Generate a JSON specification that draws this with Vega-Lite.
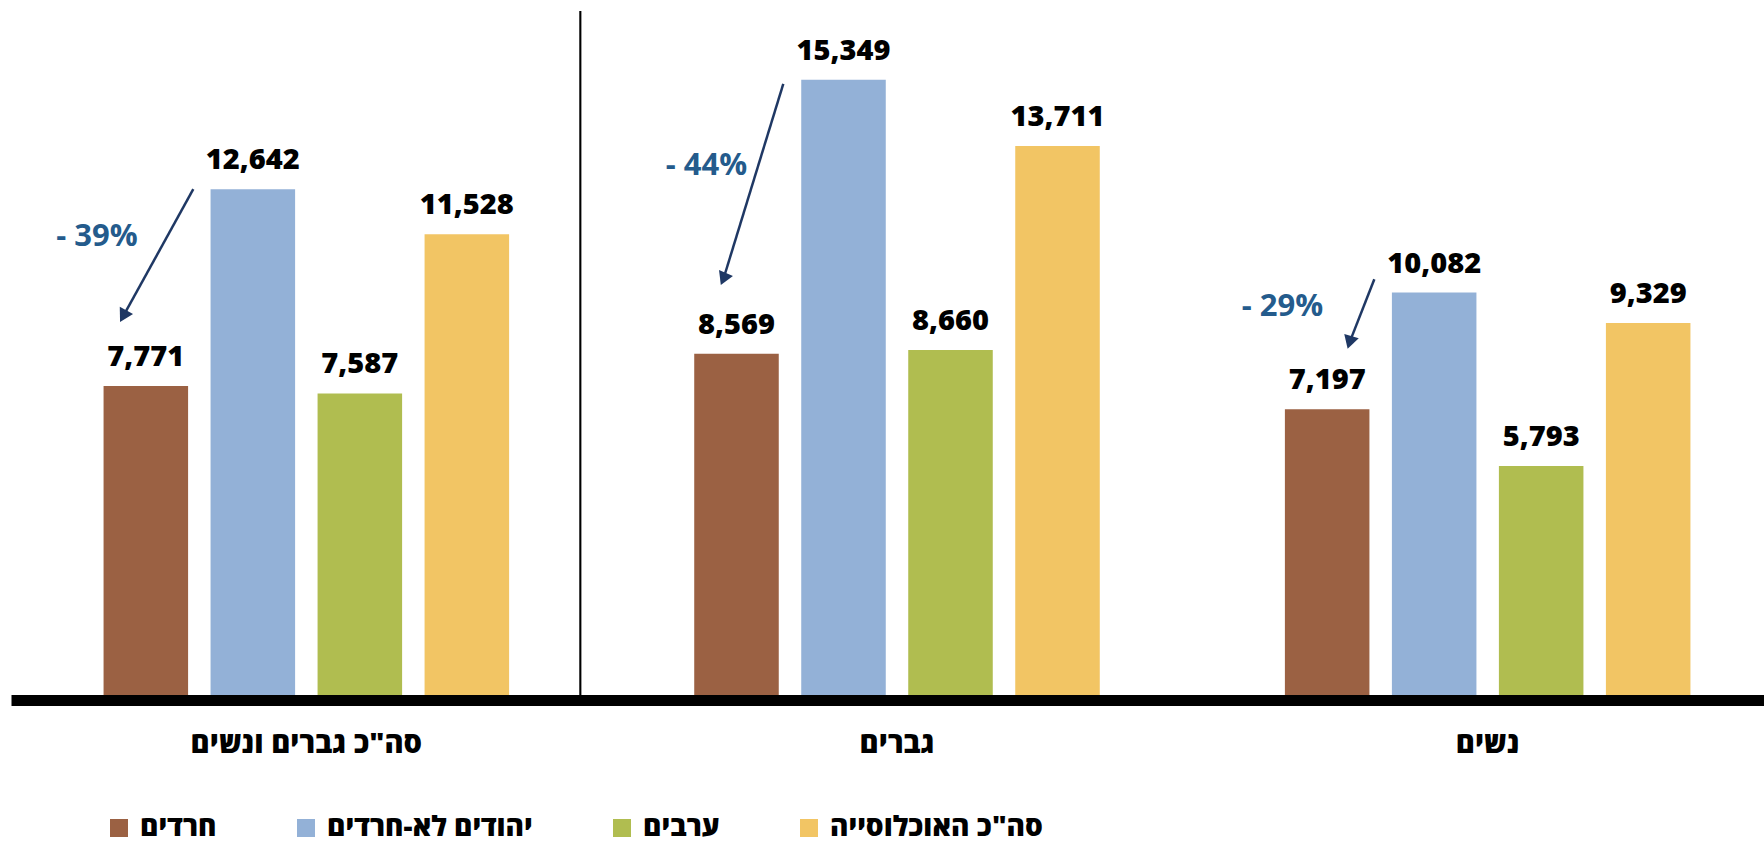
{
  "$schema": "https://vega.github.io/schema/vega-lite/v6.json",
  "autosize": {"type": "none"},
  "width": 1753,
  "height": 689,
  "padding": {"left": 11, "top": 11, "right": 0, "bottom": 141},
  "background": "white",
  "config": {"view": {"stroke": null}, "font": "Open Sans"},
  "datasets": {
    "bars": [
      {"group": "סה\"כ גברים ונשים", "series": "חרדים", "value": 7771},
      {"group": "סה\"כ גברים ונשים", "series": "יהודים לא-חרדים", "value": 12642},
      {"group": "סה\"כ גברים ונשים", "series": "ערבים", "value": 7587},
      {"group": "סה\"כ גברים ונשים", "series": "סה\"כ האוכלוסייה", "value": 11528},
      {"group": "גברים", "series": "חרדים", "value": 8569},
      {"group": "גברים", "series": "יהודים לא-חרדים", "value": 15349},
      {"group": "גברים", "series": "ערבים", "value": 8660},
      {"group": "גברים", "series": "סה\"כ האוכלוסייה", "value": 13711},
      {"group": "נשים", "series": "חרדים", "value": 7197},
      {"group": "נשים", "series": "יהודים לא-חרדים", "value": 10082},
      {"group": "נשים", "series": "ערבים", "value": 5793},
      {"group": "נשים", "series": "סה\"כ האוכלוסייה", "value": 9329}
    ],
    "gaps": [
      {"pct": "- 39%", "from_pos": 0.3086, "from_val": 12641, "to_pos": 0.19, "to_val": 9498, "label_pos": 0.1456, "label_val": 11448},
      {"pct": "- 44%", "from_pos": 1.3075, "from_val": 15248, "to_pos": 1.2061, "to_val": 10418, "label_pos": 1.1775, "label_val": 13205},
      {"pct": "- 29%", "from_pos": 2.3081, "from_val": 10413, "to_pos": 2.2662, "to_val": 8849, "label_pos": 2.1525, "label_val": 9715}
    ]
  },
  "layer": [
    {
      "data": {"name": "bars"},
      "encoding": {
        "x": {
          "field": "group",
          "type": "nominal",
          "sort": ["סה\"כ גברים ונשים", "גברים", "נשים"],
          "scale": {"range": [0, 1772], "paddingInner": 0, "paddingOuter": 0},
          "axis": {
            "title": null,
            "orient": "bottom",
            "domain": true,
            "domainColor": "#000000",
            "domainWidth": 11,
            "ticks": false,
            "tickSize": 0,
            "labelAngle": 0,
            "labelBaseline": "middle",
            "labelPadding": 43,
            "labelFont": "Open Sans",
            "labelFontSize": 29,
            "labelFontWeight": 800,
            "labelColor": "#000000",
            "labelLimit": 500,
            "grid": false,
            "zindex": 2
          }
        },
        "xOffset": {
          "field": "series",
          "type": "nominal",
          "sort": ["חרדים", "יהודים לא-חרדים", "ערבים", "סה\"כ האוכלוסייה"],
          "scale": {"paddingInner": 0.21, "paddingOuter": 0.865}
        },
        "y": {
          "field": "value",
          "type": "quantitative",
          "scale": {"domain": [0, 17050], "nice": false, "zero": true},
          "axis": null
        }
      },
      "layer": [
        {
          "mark": {"type": "bar"},
          "encoding": {
            "color": {
              "field": "series",
              "type": "nominal",
              "sort": ["חרדים", "יהודים לא-חרדים", "ערבים", "סה\"כ האוכלוסייה"],
              "scale": {
                "domain": ["חרדים", "יהודים לא-חרדים", "ערבים", "סה\"כ האוכלוסייה"],
                "range": ["#9B6143", "#93B1D7", "#B0BD50", "#F2C564"]
              },
              "legend": {
                "title": null,
                "orient": "none",
                "legendX": 94,
                "legendY": 803,
                "direction": "horizontal",
                "columns": 4,
                "padding": 0,
                "symbolType": "square",
                "symbolSize": 324,
                "symbolStrokeWidth": 0,
                "symbolOpacity": 1,
                "labelFont": "Open Sans",
                "labelFontSize": 28,
                "labelFontWeight": 800,
                "labelColor": "#000000",
                "labelAlign": "left",
                "labelOffset": 7,
                "labelLimit": 600,
                "columnPadding": 75
              }
            }
          }
        },
        {
          "mark": {
            "type": "text",
            "dy": -20,
            "baseline": "alphabetic",
            "align": "center",
            "font": "Open Sans",
            "fontSize": 29,
            "fontWeight": 800,
            "color": "#000000"
          },
          "encoding": {"text": {"field": "value", "type": "quantitative", "format": ","}}
        }
      ]
    },
    {
      "data": {"name": "gaps"},
      "layer": [
        {
          "mark": {"type": "rule", "color": "#000000", "strokeWidth": 1.5},
          "encoding": {
            "x": {"datum": 0.964, "type": "quantitative", "scale": {"domain": [0, 3], "range": [0, 1772], "nice": false, "zero": false}, "axis": null},
            "y": {"datum": 0, "type": "quantitative"},
            "y2": {"datum": 17050}
          }
        },
        {
          "mark": {"type": "rule", "color": "#1F3864", "strokeWidth": 2.5},
          "encoding": {
            "x": {"field": "from_pos", "type": "quantitative", "axis": null},
            "y": {"field": "from_val", "type": "quantitative"},
            "x2": {"field": "to_pos"},
            "y2": {"field": "to_val"}
          }
        },
        {
          "mark": {"type": "point", "shape": "triangle-up", "filled": true, "color": "#1F3864", "size": 230, "opacity": 1},
          "encoding": {
            "x": {"field": "to_pos", "type": "quantitative", "axis": null},
            "y": {"field": "to_val", "type": "quantitative"},
            "angle": {
              "field": "pct",
              "type": "nominal",
              "scale": {"domain": ["- 39%", "- 44%", "- 29%"], "range": [208.9, 197.1, 201.3]},
              "legend": null
            }
          }
        },
        {
          "mark": {"type": "text", "font": "Open Sans", "fontSize": 31, "fontWeight": 700, "color": "#245B8C", "baseline": "middle", "align": "center"},
          "encoding": {
            "x": {"field": "label_pos", "type": "quantitative", "axis": null},
            "y": {"field": "label_val", "type": "quantitative"},
            "text": {"field": "pct", "type": "nominal"}
          }
        }
      ]
    }
  ],
  "resolve": {"scale": {"x": "independent"}}
}
